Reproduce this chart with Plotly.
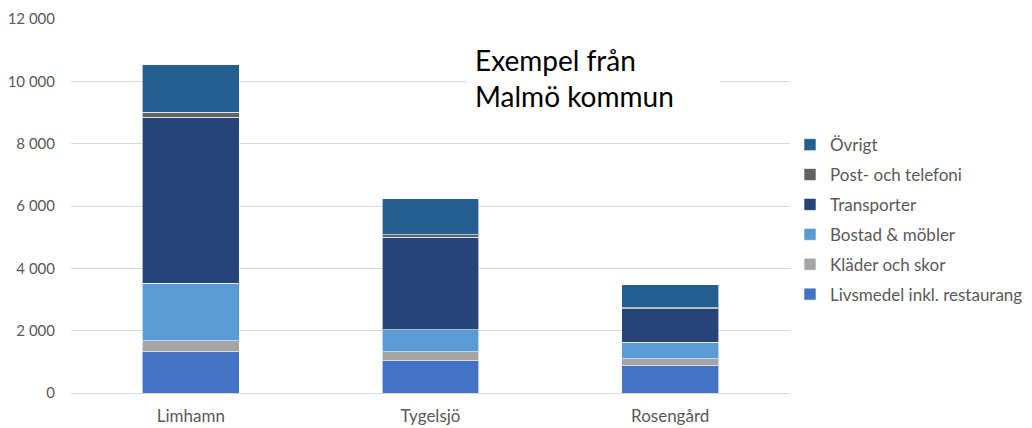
import plotly.graph_objects as go

categories = ["Limhamn", "Tygelsjö", "Rosengård"]
series_names = ["Livsmedel inkl. restaurang", "Kläder och skor", "Bostad & möbler",
                "Transporter", "Post- och telefoni", "Övrigt"]
livsmedel = [1330, 1030, 880]
klader = [340, 300, 220]
bostad = [1850, 700, 535]
transporter = [5320, 2960, 1070]
post = [170, 90, 30]
ovrigt = [1520, 1160, 740]
series_values = [livsmedel, klader, bostad, transporter, post, ovrigt]
colors = ["#4472C4", "#A5A5A5", "#5B9BD5", "#264478", "#636363", "#255E91"]
y_ticks = [0, 2000, 4000, 6000, 8000, 10000, 12000]

FONT = "Lato"
fig = go.Figure()
n = len(series_names)
for i, (name, vals, col) in enumerate(zip(series_names, series_values, colors)):
    fig.add_trace(go.Bar(
        x=categories, y=vals, name=name, legendgroup=name, legendrank=n - i,
        marker=dict(color=col, line=dict(color="rgba(255,255,255,0.6)", width=1)),
    ))

fig.update_layout(
    width=1024, height=420,
    margin=dict(l=63, r=242, t=11, b=35, autoexpand=False),
    barmode="stack", bargap=0.596,
    plot_bgcolor="white", paper_bgcolor="white",
    separators=", ",
    font=dict(family=FONT, color="#595959", size=15),
    legend=dict(
        x=1.0, y=0.711, xanchor="left", yanchor="top",
        traceorder="grouped", tracegroupgap=4.8,
        font=dict(family=FONT, size=17, color="#595959"),
        itemwidth=30,
    ),
    xaxis=dict(
        showgrid=False, showline=True, linecolor="#d9d9d9", linewidth=1,
        ticks="outside", ticklen=8, tickcolor="rgba(0,0,0,0)",
        tickfont=dict(size=17), automargin=False,
    ),
    yaxis=dict(
        range=[0, 12000], tickvals=y_ticks, tickformat=",d",
        showgrid=True, gridcolor="#d9d9d9", gridwidth=1,
        zeroline=False, showline=False,
        ticks="outside", ticklen=12, tickcolor="rgba(0,0,0,0)",
        tickfont=dict(size=15), automargin=False,
    ),
    annotations=[dict(
        text="Exempel från<br>Malmö kommun",
        xref="paper", yref="paper", x=0.5497, y=0.841,
        xanchor="left", yanchor="middle", align="left",
        showarrow=False, bgcolor="white", borderpad=8, width=236,
        font=dict(family=FONT, size=28, color="black"),
    )],
)

fig.write_html("out.html")
